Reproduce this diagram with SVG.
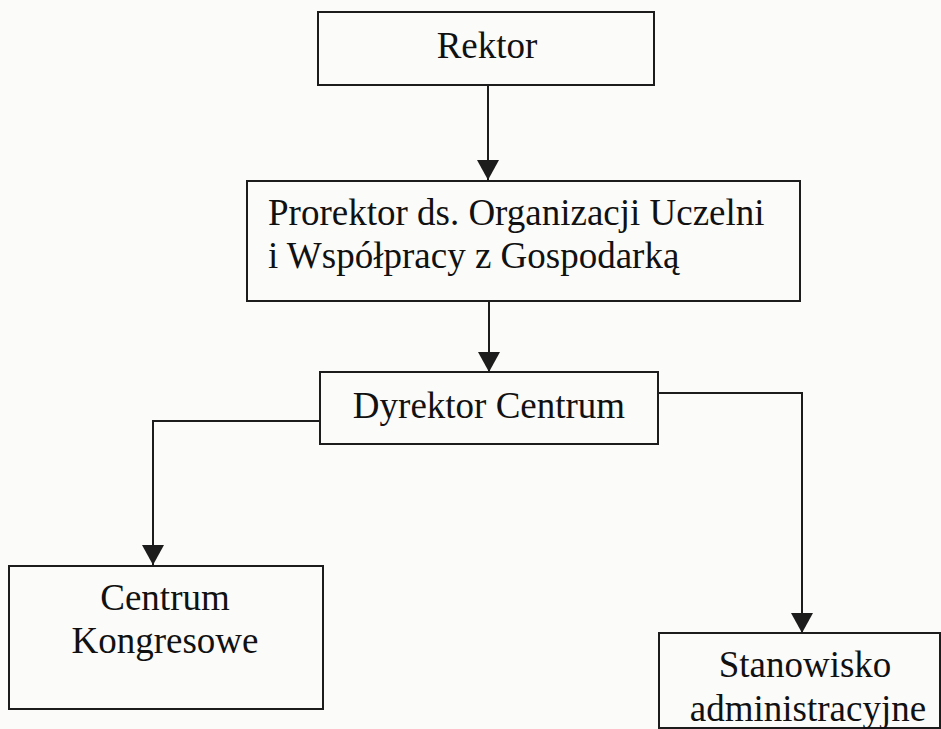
<svg xmlns="http://www.w3.org/2000/svg" width="941" height="729" viewBox="0 0 941 729">
<style>
.box{fill:#fbfbfa;stroke:#1c1c1c;stroke-width:2}
.t{font-family:"Liberation Serif","Times New Roman",serif;font-size:37px;fill:#111}
.c{text-anchor:middle}
.con{fill:none;stroke:#1c1c1c;stroke-width:2}
</style>
<defs>
<marker id="ah" markerUnits="userSpaceOnUse" markerWidth="20" markerHeight="22" refX="20" refY="11" orient="auto" viewBox="0 0 20 22">
<path d="M0,0 L20,11 L0,22 Z" fill="#1c1c1c"/>
</marker>
</defs>
<rect x="0" y="0" width="941" height="729" fill="#fbfbfa"/>
<g id="connectors">
<path class="con" d="M488,85 L488,180" marker-end="url(#ah)"/>
<path class="con" d="M489,301 L489,372" marker-end="url(#ah)"/>
<path class="con" d="M320,421 L153,421 L153,565" marker-end="url(#ah)"/>
<path class="con" d="M658,393 L802,393 L802,633" marker-end="url(#ah)"/>
</g>
<g id="rektor">
<rect class="box" x="318" y="12" width="336" height="73"/>
<text class="t c" x="487" y="58">Rektor</text>
</g>
<g id="prorektor">
<rect class="box" x="247" y="181" width="553" height="120"/>
<text class="t" x="268" y="225">Prorektor ds. Organizacji Uczelni</text>
<text class="t" x="268" y="268">i Współpracy z Gospodarką</text>
</g>
<g id="dyrektor">
<rect class="box" x="320" y="372" width="338" height="72"/>
<text class="t c" x="489" y="418">Dyrektor Centrum</text>
</g>
<g id="centrum">
<rect class="box" x="9" y="566" width="314" height="143"/>
<text class="t c" x="165" y="610">Centrum</text>
<text class="t c" x="165" y="653">Kongresowe</text>
</g>
<g id="stanowisko">
<rect class="box" x="659" y="633" width="281" height="95"/>
<text class="t c" x="805" y="677">Stanowisko</text>
<text class="t c" x="808" y="721">administracyjne</text>
</g>
</svg>
